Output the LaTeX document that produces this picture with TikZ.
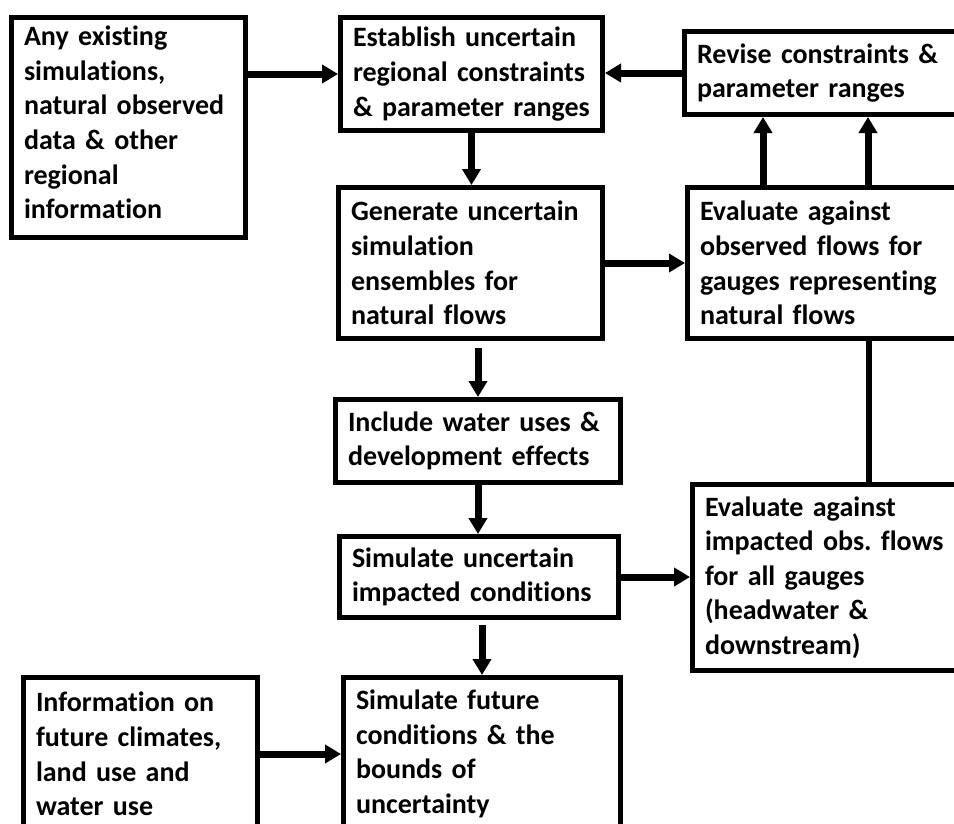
\documentclass[tikz,border=0pt]{standalone}
\usepackage{fontspec}
\setmainfont{Carlito}[RawFeature={-liga;-clig}]
\usetikzlibrary{arrows.meta,calc}
\frenchspacing
\begin{document}
\begin{tikzpicture}[x=1pt,y=-1pt,
  box/.style={draw, line width=5pt, anchor=north west, align=left,
    inner xsep=12.5pt, inner ysep=0pt,
    font=\fontsize{28}{34.6}\selectfont\bfseries},
  arr/.style={line width=7pt, -{Triangle[length=16pt,width=18pt]}},
  plainline/.style={line width=6pt}]
\clip (0,0) rectangle (954,823);
\fill[white] (0,0) rectangle (954,823);

\node[box, minimum width=234pt, minimum height=220pt, text width=209pt] (A) at (9,15)
  {Any existing\\simulations,\\natural observed\\data \& other\\regional\\information\par\kern10pt};
\node[box, minimum width=262pt, minimum height=113pt, text width=237pt] (B) at (338,15)
  {Establish uncertain\\regional constraints\\\& parameter ranges};
\node[box, minimum width=290pt, minimum height=83pt, text width=265pt] (C) at (682,29)
  {Revise constraints \&\\parameter ranges};
\node[box, minimum width=264pt, minimum height=151pt, text width=239pt] (D) at (336,185)
  {Generate uncertain\\simulation\\ensembles for\\natural flows};
\node[box, minimum width=290pt, minimum height=151pt, text width=265pt] (E) at (685,185)
  {Evaluate against\\observed flows for\\gauges representing\\natural flows};
\node[box, minimum width=285pt, minimum height=83pt, text width=260pt] (G) at (333,397)
  {Include water uses \&\\development effects};
\node[box, minimum width=279pt, minimum height=81pt, text width=254pt] (H) at (337,534)
  {Simulate uncertain\\impacted conditions};
\node[box, minimum width=285pt, minimum height=186pt, text width=260pt] (F) at (690,482)
  {Evaluate against\\impacted obs. flows\\for all gauges\\(headwater \&\\downstream)};
\node[box, minimum width=234pt, minimum height=153pt, text width=209pt] (J) at (21,675)
  {Information on\\future climates,\\land use and\\water use};
\node[box, minimum width=277pt, minimum height=153pt, text width=252pt] (I) at (341,675)
  {Simulate future\\conditions \& the\\bounds of\\uncertainty};

\coordinate (e1) at ($(E.north west)+(78,0)$);
\coordinate (e2) at ($(E.north west)+(183,0)$);
\coordinate (e3) at ($(E.south west)+(184,0)$);
\coordinate (dg) at (G.north |- D.south);
\coordinate (hi) at (I.north |- H.south);

\draw[arr] (A.east |- B.west) -- (B.west);
\draw[arr] (C.west) -- (C.west -| B.east);
\draw[arr] (B.south) -- (B.south |- D.north);
\draw[arr] (D.east) -- (E.west);
\draw[arr] (e1) -- (e1 |- C.south);
\draw[arr] (e2) -- (e2 |- C.south);
\draw[plainline] (e3) -- (e3 |- F.north);
\draw[arr] ([yshift=-7pt]dg) -- (G.north);
\draw[arr] (G.south) -- (G.south |- H.north);
\draw[arr] (H.east) -- (H.east -| F.west);
\draw[arr] ([yshift=-5pt]hi) -- (I.north);
\draw[arr] (J.east) -- (I.west);
\end{tikzpicture}
\end{document}
